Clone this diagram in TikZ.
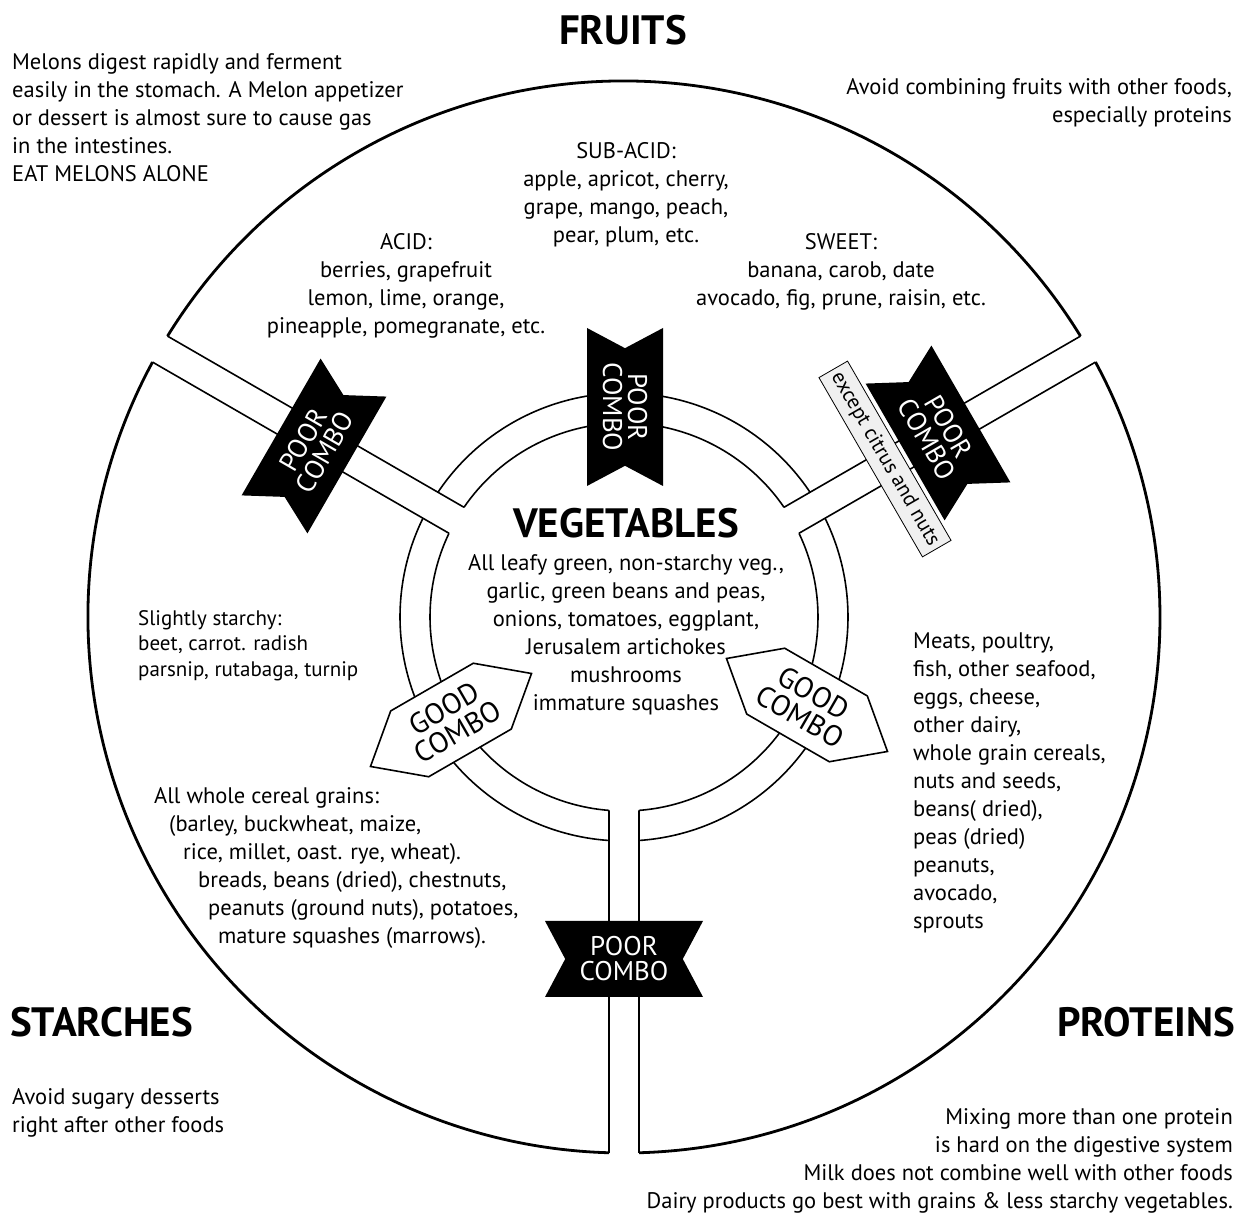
\documentclass[tikz,border=0pt]{standalone}
\usepackage{fontspec}
\setmainfont{PT Sans}
\usetikzlibrary{shapes.symbols}

\tikzset{
  rim/.style={line width=2.8pt},
  wall/.style={line width=1.6pt},
  body/.style={font=\fontsize{22.5}{28}\selectfont, inner sep=0pt},
  small/.style={font=\fontsize{21}{25.5}\selectfont, inner sep=0pt},
  head/.style={font=\fontsize{41}{41}\selectfont\bfseries, inner sep=0pt},
  poor/.style={signal, signal to=nowhere, signal from=east and west,
    signal pointer angle=124, fill=black, text=white, inner sep=0pt,
    minimum width=158pt, minimum height=76pt, align=center,
    font=\fontsize{27}{25}\selectfont},
  good/.style={signal, signal to=east and west, signal pointer angle=80,
    draw, line width=1.6pt, fill=white, inner sep=0pt,
    minimum width=177pt, minimum height=76pt, align=center,
    font=\fontsize{29}{27}\selectfont},
}

\begin{document}
\begin{tikzpicture}[x=1pt,y=1pt]
\useasboundingbox (0,0) rectangle (1242,1215);
\fill[white] (0,0) rectangle (1242,1215);

% wheel: outer rim, ring and the three channels
\begin{scope}[shift={(624,598)}]
\foreach \a in {30,150,270} {
  \draw[rim] ({\a+asin(15/536)}:536) arc[start angle={\a+asin(15/536)}, end angle={\a+120-asin(15/536)}, radius=536];
  \draw[wall] ({\a+asin(15/224)}:224) arc[start angle={\a+asin(15/224)}, end angle={\a+120-asin(15/224)}, radius=224];
  \draw[wall] ({\a+asin(15/194)}:194) arc[start angle={\a+asin(15/194)}, end angle={\a+120-asin(15/194)}, radius=194];
  \draw[wall] ({\a+asin(15/194)}:194) -- ({\a+asin(15/536)}:536);
  \draw[wall] ({\a-asin(15/194)}:194) -- ({\a-asin(15/536)}:536);
}
\end{scope}

% group titles
\node (fruits) [head, anchor=north] at (623,1200) {FRUITS};
\node (veg) [head, anchor=north] at (626,707) {VEGETABLES};
\node (starches) [head, anchor=north west] at (10,208) {STARCHES};
\node (proteins) [head, anchor=north east] at (1235,208) {PROTEINS};

% notes outside the wheel
\node (melons) [body, anchor=north west, align=left] at (12,1162) {Melons digest rapidly and ferment\\easily in the stomach. A Melon appetizer\\or dessert is almost sure to cause gas\\in the intestines.\\EAT MELONS ALONE};
\node (avoidfruit) [body, anchor=north east, align=right] at (1232,1137) {Avoid combining fruits with other foods,\\especially proteins};
\node (avoidsugar) [body, anchor=north west, align=left] at (12,127) {Avoid sugary desserts\\right after other foods};
\node (mixing) [body, anchor=north east, align=right] at (1233,107) {Mixing more than one protein\\is hard on the digestive system\\Milk does not combine well with other foods\\Dairy products go best with grains \& less starchy vegetables.};

% fruits
\node (subacid) [body, anchor=north, align=center] at (626,1073) {SUB-ACID:\\apple, apricot, cherry,\\grape, mango, peach,\\pear, plum, etc.};
\node (acid) [body, anchor=north, align=center] at (406,982) {ACID:\\berries, grapefruit\\lemon, lime, orange,\\pineapple, pomegranate, etc.};
\node (sweet) [body, anchor=north, align=center] at (841,982) {SWEET:\\banana, carob, date\\avocado, fig, prune, raisin, etc.};

% vegetables
\node (veglist) [body, anchor=north, align=center] at (626,661) {All leafy green, non-starchy veg.,\\garlic, green beans and peas,\\onions, tomatoes, eggplant,\\Jerusalem artichokes\\mushrooms\\immature squashes};

% starches
\node (slight) [small, anchor=north west, align=left] at (138,605) {Slightly starchy:\\beet, carrot. radish\\parsnip, rutabaga, turnip};
\node (grains) [body, anchor=north west, align=left] at (154,428) {All whole cereal grains:\\\hspace*{15pt}(barley, buckwheat, maize,\\\hspace*{29pt}rice, millet, oast. rye, wheat).\\\hspace*{44pt}breads, beans (dried), chestnuts,\\\hspace*{54pt}peanuts (ground nuts), potatoes,\\\hspace*{64pt}mature squashes (marrows).};

% proteins
\node (meats) [body, anchor=north west, align=left] at (913,582) {Meats, poultry,\\fish, other seafood,\\eggs, cheese,\\other dairy,\\whole grain cereals,\\nuts and seeds,\\beans( dried),\\peas (dried)\\peanuts,\\avocado,\\sprouts};

% combo markers
\node (poortop) [poor, rotate=-90] at (625,808) {POOR\\COMBO};
\node (poorleft) [poor, rotate=60] at (314,769) {POOR\\COMBO};
\node (poorright) [poor, rotate=-60] at (938,782) {POOR\\COMBO};
\node (poorbottom) [poor] at (624,256) {POOR\\COMBO};
\node (goodleft) [good, rotate=30] at (451,495) {GOOD\\COMBO};
\node (goodright) [good, rotate=-30] at (807,510) {GOOD\\COMBO};
\node (except) [small, draw, line width=0.8pt, fill=gray!12, rotate=-60, minimum width=207pt, minimum height=33pt] at (885,756) {except citrus and nuts};
\end{tikzpicture}
\end{document}
